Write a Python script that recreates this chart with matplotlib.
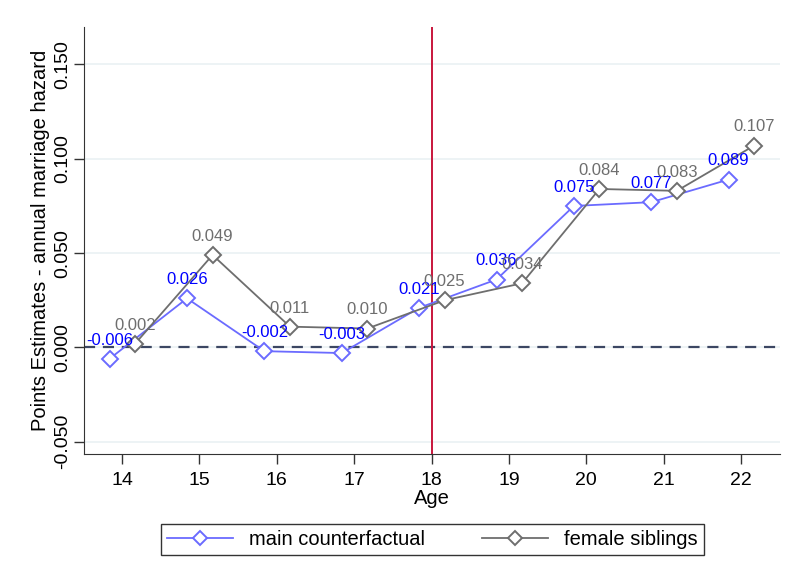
import numpy as np
import matplotlib.pyplot as plt

plt.rcParams['font.family'] = ['Liberation Sans', 'DejaVu Sans']

ages = [14, 15, 16, 17, 18, 19, 20, 21, 22]
main_cf = [-0.006, 0.026, -0.002, -0.003, 0.021, 0.036, 0.075, 0.077, 0.089]
female_sib = [0.002, 0.049, 0.011, 0.010, 0.025, 0.034, 0.084, 0.083, 0.107]
yticks = [-0.05, 0.0, 0.05, 0.1, 0.15]

main_col = '#6b6bff'
fem_col = '#6e6e6e'

fig = plt.figure(figsize=(7.86, 5.82), dpi=100)
ax = fig.add_axes([0.107, 0.22, 0.885, 0.734])

x = np.array(ages, dtype=float)
xm = x - 0.16
xf = x + 0.17

for yt in yticks:
    ax.axhline(yt, color='#eaf1f3', lw=1.2, zorder=0)
ax.axhline(0, color='#3c4763', lw=1.6, ls=(0, (5, 3.5)), zorder=1)
ax.axvline(18, color='#c8163c', lw=1.4, zorder=1)

ax.plot(xm, main_cf, color=main_col, lw=1.3, marker='D', ms=8,
        mfc='white', mec=main_col, mew=1.4, label='main counterfactual', zorder=3)
ax.plot(xf, female_sib, color=fem_col, lw=1.3, marker='D', ms=8,
        mfc='white', mec=fem_col, mew=1.4, label='female siblings', zorder=4)

for xi, v in zip(xm, main_cf):
    ax.annotate('%.3f' % v, (xi, v), xytext=(0, 8), textcoords='offset points',
                ha='center', va='bottom', color='#0000ff', fontsize=12, zorder=5)
for xi, v in zip(xf, female_sib):
    ax.annotate('%.3f' % v, (xi, v), xytext=(0, 8), textcoords='offset points',
                ha='center', va='bottom', color='#6e6e6e', fontsize=12, zorder=5)

ax.set_xlim(13.51, 22.5)
ax.set_ylim(-0.0565, 0.170)
ax.set_xticks(ages)
ax.set_yticks(yticks)
ax.set_yticklabels(['%.3f' % t for t in yticks], rotation=90, va='center')
ax.tick_params(axis='both', labelsize=14, length=7, width=1, color='#333333')
ax.tick_params(axis='x', pad=6)
ax.tick_params(axis='y', pad=2)
ax.set_xlabel('Age', fontsize=14.5, labelpad=0)
ax.set_ylabel('Points Estimates - annual marriage hazard', fontsize=14.5, labelpad=3)

for s in ['top', 'right']:
    ax.spines[s].set_visible(False)
for s in ['left', 'bottom']:
    ax.spines[s].set_color('#333333')

leg = fig.legend(loc='center', bbox_to_anchor=(0.55, 0.0725), ncol=2,
                 fontsize=14.5, frameon=True, fancybox=False, handlelength=3.3,
                 columnspacing=2.8, borderpad=0.3, edgecolor='black')
leg.get_frame().set_linewidth(1.0)
for h in leg.legend_handles:
    h.set_markersize(7)

fig.savefig('out.png', dpi=100)
